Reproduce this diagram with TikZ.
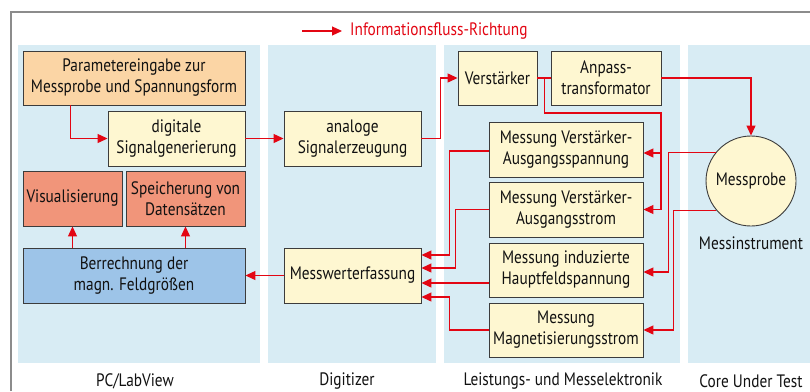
\documentclass[tikz,border=0pt]{standalone}
\usepackage{fontspec}
\setmainfont{PT Sans}[FakeStretch=0.85]
\usetikzlibrary{arrows.meta,calc}
\definecolor{peach}{HTML}{FBD5A5}
\definecolor{cream}{HTML}{FEF7D1}
\definecolor{salmon}{HTML}{F1957A}
\definecolor{skyb}{HTML}{9DC4E8}
\definecolor{panel}{HTML}{D8ECF4}
\definecolor{flowred}{HTML}{E30613}
\definecolor{framec}{HTML}{8C8C8C}
\definecolor{boxline}{HTML}{3C3C3C}
\definecolor{txt}{HTML}{111111}
\tikzset{
  box/.style={draw=boxline, line width=0.9pt, inner sep=0pt, align=center, text=txt},
  wire/.style={draw=flowred, line width=1.2pt},
  arr/.style={wire, -{Triangle[length=10pt,width=9pt]}},
  lbl/.style={inner sep=0pt, text=txt},
  panelbox/.style={fill=panel, draw=none}
}
\begin{document}
\begin{tikzpicture}[x=1pt,y=-1pt, font=\fontsize{18}{21}\selectfont]
\useasboundingbox (0,0) rectangle (810,391);
\fill[white] (0,0) rectangle (810,391);
% frame
\draw[framec, line width=1.5pt] (11,391) -- (11,12) -- (810,12);
% panels
\fill[panelbox] (18,45) rectangle (260,363);
\fill[panelbox] (268,45) rectangle (436,363);
\fill[panelbox] (444,45) rectangle (680,363);
\fill[panelbox] (688,45) rectangle (810,363);
% title
\coordinate (t0) at (302,31);
\node[lbl, text=flowred, anchor=west] (title) at (350,31) {Informationsfluss-Richtung};
\draw[arr] (t0) -- ([xshift=-8pt]title.west);
% column labels
\node[lbl] (l1) at (135,381) {PC/LabView};
\node[lbl] (l2) at (347,381) {Digitizer};
\node[lbl] (l3) at (563,381) {Leistungs- und Messelektronik};
\node[lbl] (l4) at (751,381) {Core Under Test};
% boxes
\node[box, fill=peach, minimum width=222pt, minimum height=54pt] (par) at (134,78) {Parametereingabe zur\\Messprobe und Spannungsform};
\node[box, fill=cream, minimum width=137pt, minimum height=55pt] (dig) at (176.5,138.5) {digitale\\Signalgenerierung};
\node[box, fill=salmon, minimum width=99pt, minimum height=55pt] (vis) at (72.5,198.5) {Visualisierung};
\node[box, fill=salmon, minimum width=119pt, minimum height=55pt] (spe) at (185.5,198.5) {Speicherung von\\Datensätzen};
\node[box, fill=skyb, minimum width=222pt, minimum height=55pt] (ber) at (134,275.5) {Berrechnung der\\magn. Feldgrößen};
\node[box, fill=cream, minimum width=137pt, minimum height=55pt] (ana) at (352.5,138.5) {analoge\\Signalerzeugung};
\node[box, fill=cream, minimum width=137pt, minimum height=55pt] (mwe) at (352.5,275.5) {Messwerterfassung};
\node[box, fill=cream, minimum width=79pt, minimum height=54pt] (ver) at (497.5,78) {Verstärker};
\node[box, fill=cream, minimum width=110pt, minimum height=54pt] (anp) at (606,78) {Anpass-\\transformator};
\node[box, fill=cream, minimum width=154pt, minimum height=55pt] (m1) at (566,149.5) {Messung Verstärker-\\Ausgangsspannung};
\node[box, fill=cream, minimum width=154pt, minimum height=55pt] (m2) at (566,209.5) {Messung Verstärker-\\Ausgangsstrom};
\node[box, fill=cream, minimum width=154pt, minimum height=54pt] (m3) at (566,270) {Messung induzierte\\Hauptfeldspannung};
\node[box, fill=cream, minimum width=154pt, minimum height=54pt] (m4) at (566,330) {Messung\\Magnetisierungsstrom};
\node[box, circle, fill=cream, minimum size=90pt] (mp) at (751,181) {Messprobe};
\node[lbl] (mi) at (751,243) {Messinstrument};
% connectors
\draw[arr] ([xshift=48pt]par.south west) |- (dig.west);
\draw[arr] (dig.east) -- (ana.west);
\draw[arr] (ana.east) -- ++(19,0) |- (ver.west);
\draw[wire] (ver.east) -- (anp.west);
\coordinate (j1) at (661,113);
\draw[arr] ([xshift=7pt]ver.east) |- (j1) |- ([yshift=-3.5pt]m1.east);
\draw[arr] (j1) |- (m2.east);
\draw[arr] (anp.east) -| (mp.north);
\draw[arr] (mp.141.5) -| ([xshift=25pt,yshift=-2pt]m3.east) -- ([yshift=-2pt]m3.east);
\draw[arr] (mp.220) -| ([xshift=30pt]m4.east) -- (m4.east);
\draw[arr] ([yshift=-1.5pt]m1.west) -| ([xshift=28pt,yshift=20.5pt]mwe.east) -- ([yshift=20.5pt]mwe.east);
\draw[arr] (m2.west) -| ([xshift=34pt,yshift=7.5pt]mwe.east) -- ([yshift=7.5pt]mwe.east);
\draw[arr] ([yshift=-13pt]m3.west) -- ([yshift=-7.5pt]mwe.east);
\draw[arr] (m4.west) -| ([xshift=28pt,yshift=-21.5pt]mwe.east) -- ([yshift=-21.5pt]mwe.east);
\draw[arr] (mwe.west) -- (ber.east);
\draw[arr] (ber.north -| vis.south) -- (vis.south);
\draw[arr] (ber.north -| spe.south) -- (spe.south);
\end{tikzpicture}
\end{document}
